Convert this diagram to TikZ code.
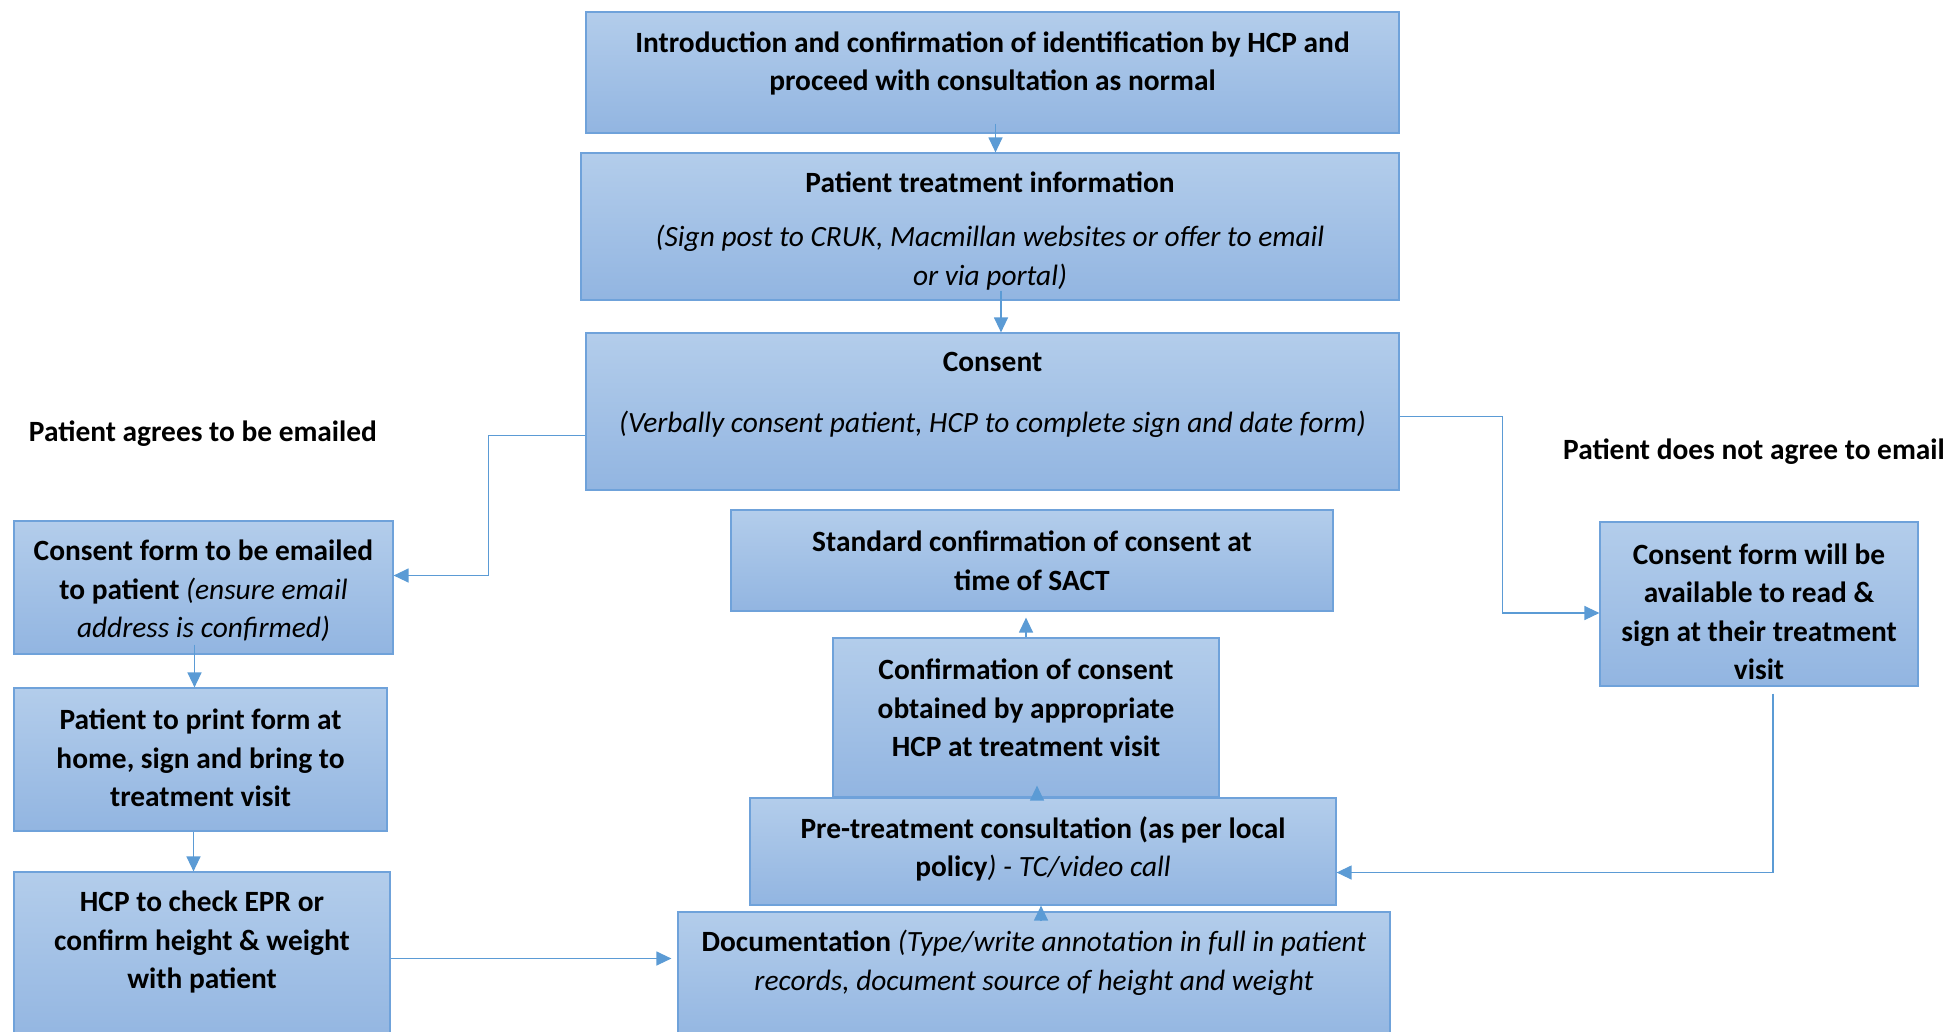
\documentclass[tikz,border=0pt]{standalone}
\usepackage{fontspec}
\setmainfont{Carlito}
\usetikzlibrary{arrows.meta}

\definecolor{boxtop}{HTML}{B3CDEB}
\definecolor{boxbot}{HTML}{92B5E1}
\definecolor{boxline}{HTML}{6FA2DA}
\definecolor{arrowblue}{HTML}{5B9BD5}

\tikzset{
  box/.style={draw=boxline, line width=1.2pt, top color=boxtop, bottom color=boxbot, inner sep=0pt},
  txt/.style={align=center, inner sep=0pt, yshift=-3pt, font=\fontsize{29.4}{38.5}\selectfont\bfseries},
  arr/.style={draw=arrowblue, line width=1.3pt, -{Triangle[length=15pt,width=14pt]}},
  lbl/.style={inner sep=0pt, yshift=-2pt, font=\fontsize{29.4}{34}\selectfont\bfseries}
}
\newcommand{\ital}[1]{{\mdseries\itshape #1}}

\begin{document}
\begin{tikzpicture}[x=1pt,y=-1pt]
\useasboundingbox (0,0) rectangle (1950,1031);

% centre column
\node[box, minimum width=813, minimum height=121] (intro) at (992.5,72.5) {};
\node[txt] (intro-t) at (992.5,60.5) {Introduction and confirmation of identification by HCP and\\proceed with consultation as normal};

\node[box, minimum width=818, minimum height=147] (info) at (990,226.5) {};
\node[txt] (info-t) at (990,228) {Patient treatment information\\[16pt]\ital{(Sign post to CRUK, Macmillan websites or offer to email}\\\ital{or via portal)}};

\node[box, minimum width=813, minimum height=157] (consent) at (992.5,411.5) {};
\node[txt] (consent-t) at (992.5,392) {Consent\\[22pt]\ital{(Verbally consent patient, HCP to complete sign and date form)}};

\node[box, minimum width=602, minimum height=101] (standard) at (1032,560.5) {};
\node[txt] (standard-t) at (1032,558) {Standard confirmation of consent at\\time of SACT};

\node[box, minimum width=386, minimum height=159] (confirm) at (1026,717.5) {};
\node[txt] (confirm-t) at (1026,705) {Confirmation of consent\\obtained by appropriate\\HCP at treatment visit};

\node[box, minimum width=586, minimum height=107] (pretreat) at (1043,851.5) {};
\node[txt] (pretreat-t) at (1043,846) {Pre-treatment consultation (as per local\\policy\ital{) - TC/video call}};

\node[box, minimum width=712, minimum height=133] (doc) at (1034,978.5) {};
\node[txt] (doc-t) at (1034,960) {Documentation \ital{(Type/write annotation in full in patient}\\\ital{records, document source of height and weight}};

% left column
\node[lbl] (agree) at (203,432) {Patient agrees to be emailed};

\node[box, minimum width=379, minimum height=133] (emailed) at (203.5,587.5) {};
\node[txt] (emailed-t) at (203.5,588) {Consent form to be emailed\\to patient \ital{(ensure email}\\\ital{address is confirmed)}};

\node[box, minimum width=373, minimum height=143] (print) at (200.5,759.5) {};
\node[txt] (print-t) at (200.5,755) {Patient to print form at\\home, sign and bring to\\treatment visit};

\node[box, minimum width=376, minimum height=173] (hcp) at (202,958.5) {};
\node[txt] (hcp-t) at (202,939) {HCP to check EPR or\\confirm height \& weight\\with patient};

% right column
\node[lbl] (noagree) at (1754,450) {Patient does not agree to email};

\node[box, minimum width=318, minimum height=164] (avail) at (1759,604) {};
\node[txt] (avail-t) at (1759,609) {Consent form will be\\available to read \&\\sign at their treatment\\visit};

% connectors
\draw[arr] ([xshift=3pt,yshift=10pt]intro.south) -- ([xshift=3pt]intro.south |- info.north);
\draw[arr] ([xshift=11pt,yshift=10pt]info.south) -- ([xshift=11pt]info.south |- consent.north);
\draw[arr] ([yshift=-24pt]consent.west) -- ++(-97,0) |- ([yshift=12pt]emailed.east);
\draw[arr] ([yshift=-5pt]consent.east) -- ++(103,0) |- ([yshift=-9pt]avail.west);
\draw[arr] ([xshift=-9pt,yshift=10pt]emailed.south) -- ([xshift=-9pt]emailed.south |- print.north);
\draw[arr] ([xshift=-7pt]print.south) -- ([xshift=-7pt]print.south |- hcp.north);
\draw[arr] (hcp.east) -- ([xshift=-6pt]doc.west |- hcp.east);
\draw[arr] ([xshift=7pt,yshift=-10pt]doc.north) -- ([xshift=7pt]doc.north |- pretreat.south);
\draw[arr] ([xshift=-6pt]pretreat.north) -- ([xshift=-6pt,yshift=12pt]pretreat.north |- confirm.south);
\draw[arr] (confirm.north) -- ([yshift=-6pt]confirm.north |- standard.south);
\draw[arr] ([xshift=14pt,yshift=-7pt]avail.south) |- ([yshift=-21pt]pretreat.east);

\end{tikzpicture}
\end{document}
